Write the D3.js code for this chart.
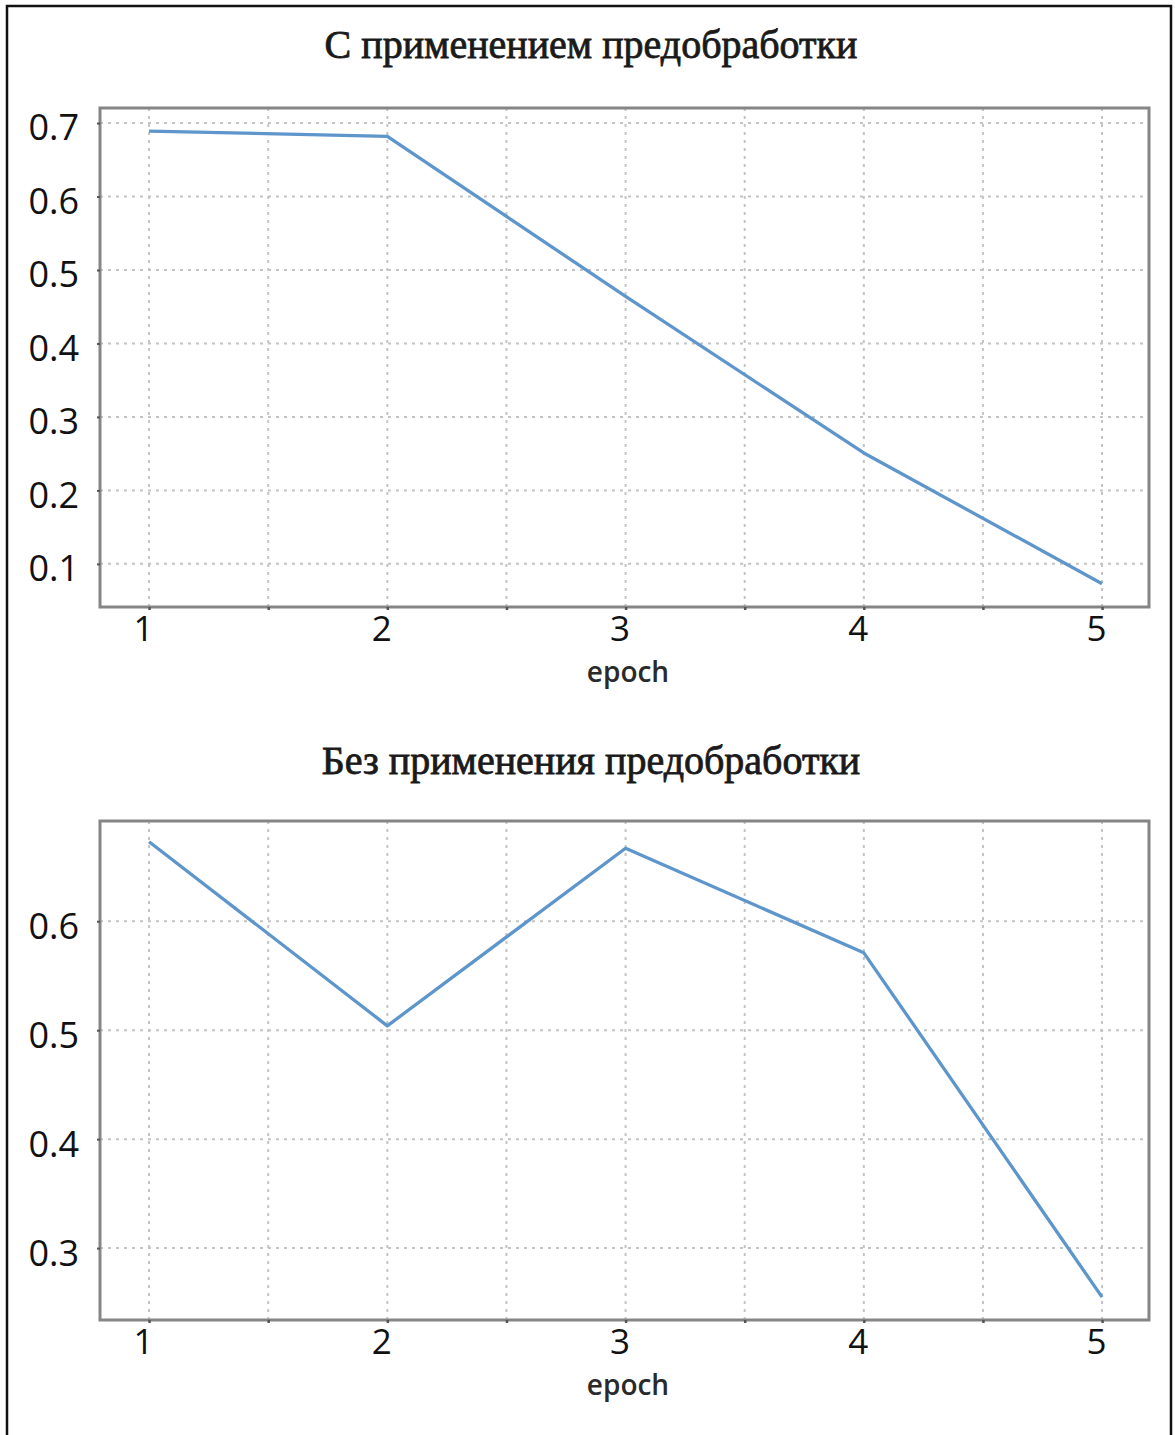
<!DOCTYPE html>
<html>
<head>
<meta charset="utf-8">
<script src="https://cdn.jsdelivr.net/npm/d3@7"></script>
<style>
  html, body { margin: 0; padding: 0; background: #fff; }
  svg { display: block; }
</style>
</head>
<body>
<script>
// Loss per epoch, two training runs
const epochs = [1, 2, 3, 4, 5];
const lossWithPrep = [0.689, 0.682, 0.464, 0.251, 0.073];
const lossWithoutPrep = [0.673, 0.504, 0.667, 0.571, 0.255];

const titleWithPrep = "С применением предобработки";
const titleWithoutPrep = "Без применения предобработки";
const xLabel = "epoch";

const yTicksWithPrep = [0.1, 0.2, 0.3, 0.4, 0.5, 0.6, 0.7];
const yTicksWithoutPrep = [0.3, 0.4, 0.5, 0.6];
const xTicks = [1, 2, 3, 4, 5];
const xGrid = [1, 1.5, 2, 2.5, 3, 3.5, 4, 4.5, 5];

const W = 1175, H = 1435;
const svg = d3.select("body").append("svg").attr("width", W).attr("height", H);

// outer frame (open at the bottom edge)
svg.append("path")
  .attr("d", `M7,${H} L7,6 L1171,6 L1171,${H}`)
  .attr("fill", "none").attr("stroke", "#111").attr("stroke-width", 2.5);

function panel(cfg) {
  const { top, bottom, left, right, yDomain, yTicks, values, title, titleY } = cfg;
  const x = d3.scaleLinear().domain([0.794, 5.197]).range([left, right]);
  const y = d3.scaleLinear().domain(yDomain).range([bottom, top]);
  const g = svg.append("g");

  g.append("text")
    .attr("x", 591).attr("y", titleY)
    .attr("text-anchor", "middle")
    .attr("font-family", "Liberation Serif, serif")
    .attr("font-size", 40)
    .attr("fill", "#1a1a1a")
    .attr("stroke", "#1a1a1a").attr("stroke-width", 0.8)
    .text(title);

  // dotted grid
  g.append("g").selectAll("line").data(xGrid).join("line")
    .attr("x1", d => x(d)).attr("x2", d => x(d))
    .attr("y1", top).attr("y2", bottom)
    .attr("stroke", "#c4c4c4").attr("stroke-width", 2)
    .attr("stroke-dasharray", "3,5");
  g.append("g").selectAll("line").data(yTicks).join("line")
    .attr("x1", left).attr("x2", right)
    .attr("y1", d => y(d)).attr("y2", d => y(d))
    .attr("stroke", "#c4c4c4").attr("stroke-width", 2)
    .attr("stroke-dasharray", "3,5");

  // plot frame
  g.append("rect")
    .attr("x", left).attr("y", top)
    .attr("width", right - left).attr("height", bottom - top)
    .attr("fill", "none").attr("stroke", "#858585").attr("stroke-width", 3);

  // axes
  const xAxis = d3.axisBottom(x).tickValues(xGrid).tickSize(3).tickPadding(6)
    .tickFormat(d => Number.isInteger(d) ? d3.format("d")(d) : "");
  const gx = g.append("g").attr("transform", `translate(0,${bottom})`).call(xAxis);
  gx.select(".domain").remove();
  gx.selectAll(".tick line").attr("stroke", "#555").attr("stroke-width", 2.5);
  gx.selectAll(".tick text")
    .attr("font-family", "Open Sans, sans-serif").attr("font-size", 35)
    .attr("fill", "#111").attr("dx", -6);

  const yAxis = d3.axisLeft(y).tickValues(yTicks).tickSize(3).tickPadding(18)
    .tickFormat(d3.format(".1f"));
  const gy = g.append("g").attr("transform", `translate(${left},0)`).call(yAxis);
  gy.select(".domain").remove();
  gy.selectAll(".tick line").attr("stroke", "#555").attr("stroke-width", 2);
  gy.selectAll(".tick text")
    .attr("font-family", "Open Sans, sans-serif").attr("font-size", 36)
    .attr("fill", "#111").attr("dy", "0.47em");

  g.append("text")
    .attr("x", 628).attr("y", bottom + 75)
    .attr("text-anchor", "middle")
    .attr("font-family", "Open Sans, sans-serif")
    .attr("font-size", 28)
    .attr("font-weight", 600)
    .attr("fill", "#2a2a2a")
    .text(xLabel);

  const line = d3.line().x((d, i) => x(epochs[i])).y(d => y(d));
  g.append("path").datum(values)
    .attr("d", line)
    .attr("fill", "none")
    .attr("stroke", "#5e96cc")
    .attr("stroke-width", 3.3)
    .attr("stroke-linejoin", "round");
}

panel({
  top: 108, bottom: 607, left: 100, right: 1149,
  yDomain: [0.0413, 0.7205], yTicks: yTicksWithPrep,
  values: lossWithPrep, title: titleWithPrep, titleY: 58
});

panel({
  top: 821, bottom: 1320, left: 100, right: 1149,
  yDomain: [0.234, 0.692], yTicks: yTicksWithoutPrep,
  values: lossWithoutPrep, title: titleWithoutPrep, titleY: 774
});
</script>
</body>
</html>
